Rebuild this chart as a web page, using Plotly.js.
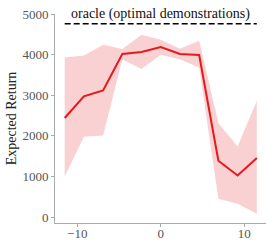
<!DOCTYPE html>
<html>
<head>
<meta charset="utf-8">
<script src="https://cdn.plot.ly/plotly-3.0.1.min.js"></script>
<style>html,body{margin:0;padding:0;background:#fff;}#chart{width:266px;height:240px;}</style>
</head>
<body>
<div id="chart"></div>
<script>
const xValues = [-11.5, -9.2, -6.9, -4.6, -2.3, 0, 2.3, 4.6, 6.9, 9.2, 11.5];
const meanReturn = [2440, 2973, 3120, 4018, 4067, 4190, 4018, 3993, 1388, 1025, 1454];
const upperReturn = [3933, 3983, 4247, 4140, 4494, 4370, 4148, 4346, 2317, 1740, 2867];
const lowerReturn = [1000, 1976, 2008, 3880, 3648, 4000, 3880, 3686, 451, 328, 82];
const oracleX = [-11.5, 11.5];
const oracleY = [4765, 4765];
const oracleLabel = "oracle (optimal demonstrations)";
const yTicks = [0, 1000, 2000, 3000, 4000, 5000];
const xTicks = [-10, 0, 10];

const bandX = xValues.concat(xValues.slice().reverse());
const bandY = upperReturn.concat(lowerReturn.slice().reverse());

const serif = "Liberation Serif, Times New Roman, serif";

const traces = [
  {x: bandX, y: bandY, type: "scatter", mode: "lines", fill: "toself",
   fillcolor: "rgba(228,26,28,0.2)", line: {width: 0}, hoverinfo: "skip", showlegend: false},
  {x: xValues, y: meanReturn, type: "scatter", mode: "lines",
   line: {color: "#e41a1c", width: 2}, showlegend: false},
  {x: oracleX, y: oracleY, type: "scatter", mode: "lines",
   line: {color: "#000", width: 1.6, dash: "6px,3px"}, showlegend: false}
];

const layout = {
  width: 266, height: 240,
  margin: {l: 55, r: 0, t: 14, b: 17},
  paper_bgcolor: "#fff", plot_bgcolor: "#fff",
  font: {family: serif, size: 13, color: "#555"},
  xaxis: {range: [-12.66, 12.6], tickvals: xTicks, showgrid: false, zeroline: false,
          showline: true, linecolor: "#aaa", linewidth: 1, ticks: "outside", ticklen: 3,
          tickcolor: "#aaa", ticklabelstandoff: -5,
          tickfont: {family: serif, size: 13, color: "#555"}},
  yaxis: {range: [-148, 5004], tickvals: yTicks, showgrid: false, zeroline: false,
          showline: true, linecolor: "#aaa", linewidth: 1, ticks: "outside", ticklen: 3,
          tickcolor: "#aaa", tickfont: {family: serif, size: 13, color: "#555"},
          title: {text: "Expected Return", font: {family: serif, size: 14, color: "#222"}, standoff: 2}},
  annotations: [
    {x: 0, y: oracleY[0], xref: "x", yref: "y", text: oracleLabel, showarrow: false,
     yanchor: "bottom", yshift: 0, font: {family: serif, size: 14, color: "#111"}}
  ]
};

Plotly.newPlot("chart", traces, layout, {displayModeBar: false, staticPlot: true});
</script>
</body>
</html>
